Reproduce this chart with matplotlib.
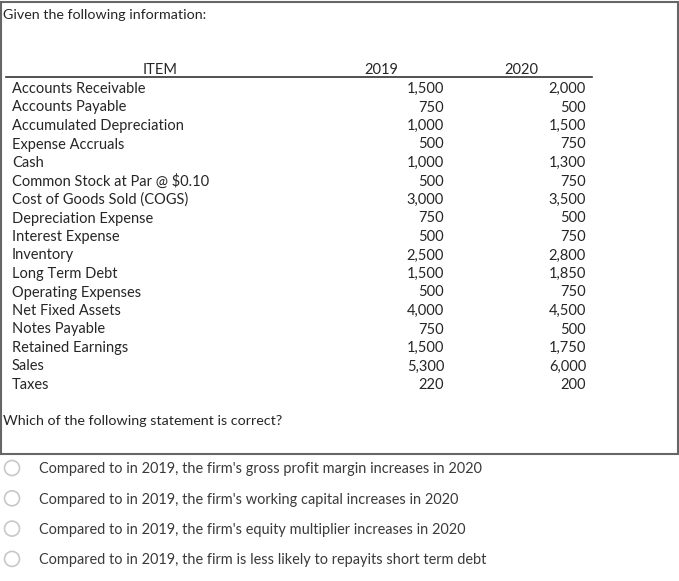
import matplotlib.pyplot as plt
from matplotlib.patches import Circle, Rectangle

plt.rcParams['font.family'] = ['Lato', 'DejaVu Sans']

# table data
items = ["Accounts Receivable", "Accounts Payable", "Accumulated Depreciation",
         "Expense Accruals", "Cash", "Common Stock at Par @ $0.10",
         "Cost of Goods Sold (COGS)", "Depreciation Expense", "Interest Expense",
         "Inventory", "Long Term Debt", "Operating Expenses", "Net Fixed Assets",
         "Notes Payable", "Retained Earnings", "Sales", "Taxes"]
v2019 = [1500, 750, 1000, 500, 1000, 500, 3000, 750, 500, 2500, 1500, 500,
         4000, 750, 1500, 5300, 220]
v2020 = [2000, 500, 1500, 750, 1300, 750, 3500, 500, 750, 2800, 1850, 750,
         4500, 500, 1750, 6000, 200]
years = ["2019", "2020"]

title = "Given the following information:"
question = "Which of the following statement is correct?"
options = [
    "Compared to in 2019, the firm's gross profit margin increases in 2020",
    "Compared to in 2019, the firm's working capital increases in 2020",
    "Compared to in 2019, the firm's equity multiplier increases in 2020",
    "Compared to in 2019, the firm is less likely to repayits short term debt",
]

fig = plt.figure(figsize=(6.79, 5.81), dpi=100)
ax = fig.add_axes([0, 0, 1, 1])
ax.set_xlim(0, 679)
ax.set_ylim(581, 0)
ax.axis('off')

txt = '#262626'
fs = 10.5
va = 'center_baseline'

# outer box
ax.add_patch(Rectangle((1, 2), 677, 452, fill=False, edgecolor='#666666', lw=1.5))

ax.text(3, 14, title, fontsize=10.3, color=txt, va=va, ha='left')

# header
ax.text(160, 68, "ITEM", fontsize=fs, color=txt, va=va, ha='center')
ax.text(381, 68, years[0], fontsize=fs, color=txt, va=va, ha='center')
ax.text(521, 68, years[1], fontsize=fs, color=txt, va=va, ha='center')
ax.plot([6, 592], [76.5, 76.5], color='#333333', lw=1.2)

# rows
for i, name in enumerate(items):
    y = 87.5 + i * 18.5
    ax.text(12, y, name, fontsize=fs, color=txt, va=va, ha='left')
    ax.text(444, y, f"{v2019[i]:,}", fontsize=fs, color=txt, va=va, ha='right')
    ax.text(586, y, f"{v2020[i]:,}", fontsize=fs, color=txt, va=va, ha='right')

ax.text(3, 420, question, fontsize=10.3, color=txt, va=va, ha='left')

# answer options
for i, opt in enumerate(options):
    y = 468 + i * 30.3
    ax.add_patch(Circle((12, y), 7.5, fill=False, edgecolor='#c8c8c8', lw=1.2))
    ax.text(39, y, opt, fontsize=10.45, color='#3a3a3a', va=va, ha='left')

fig.savefig('out.png', dpi=100, facecolor='white')
